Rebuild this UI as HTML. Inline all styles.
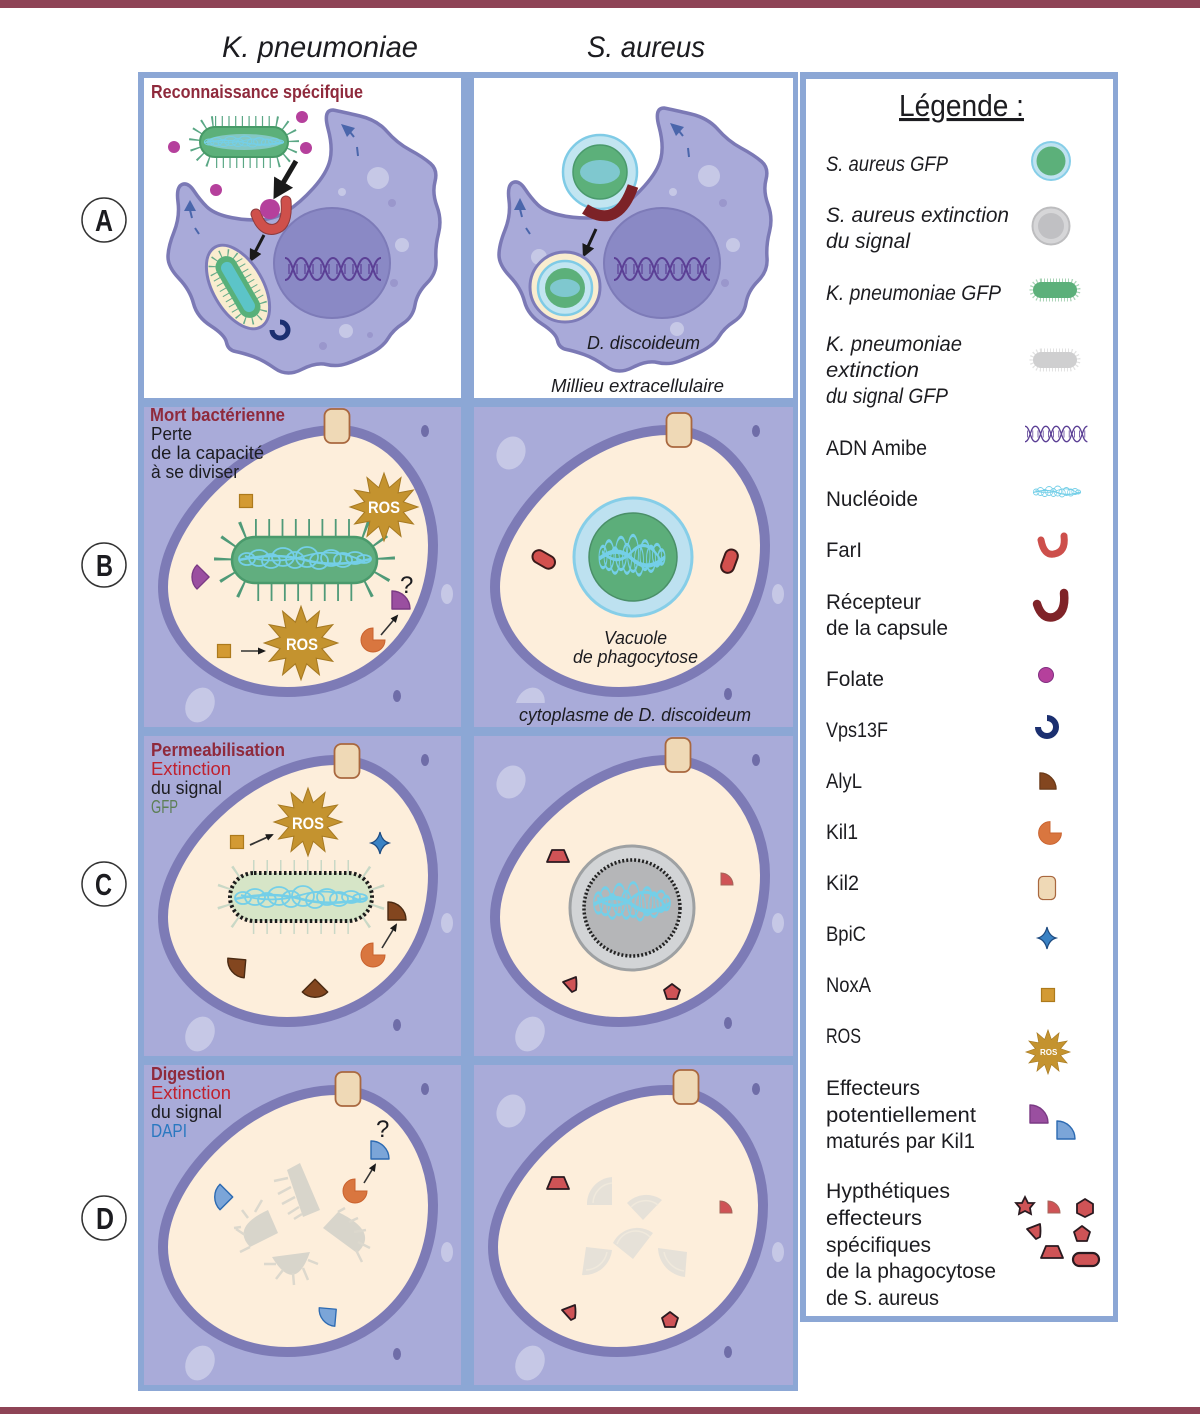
<!DOCTYPE html>
<html><head><meta charset="utf-8"><style>
html,body{margin:0;padding:0;background:#fff}
svg{display:block}
text{font-family:"Liberation Sans",sans-serif;fill:#1c1c20}
.l{font-size:21px}.i{font-style:italic}
.p{font-size:18px}.b{font-weight:bold}
</style></head><body>
<svg xmlns="http://www.w3.org/2000/svg" width="1200" height="1414" viewBox="0 0 1200 1414">
<defs>
<marker id="ah" markerWidth="8" markerHeight="8" refX="6" refY="3.5" orient="auto" markerUnits="userSpaceOnUse"><path d="M0 0L8 3.5L0 7Z" fill="#1a1a1a"/></marker>
<marker id="ahm" markerWidth="13" markerHeight="13" refX="8" refY="6.500" orient="auto" markerUnits="userSpaceOnUse"><path d="M0 0L13 6.500L0 13Z" fill="#1a1a1a"/></marker>
<marker id="ahb" markerWidth="22" markerHeight="22" refX="15" refY="11" orient="auto" markerUnits="userSpaceOnUse"><path d="M0 0L20 11L0 22Z" fill="#1a1a1a"/></marker>
<path id="am" d="M333 110Q343 112 360 116Q377 120 387 131.5Q397 143 410 150Q423 157 430.5 163.5Q438 170 435 181.5Q432 193 437 206.5Q442 220 438.5 233.5Q435 247 436 260Q437 273 427 283Q417 293 415 305Q413 317 403 323.5Q393 330 388 338.5Q383 347 370 353.5Q357 360 347 363.5Q337 367 326.5 364.5Q316 362 301.5 369.5Q287 377 275 368.5Q263 360 253 356.5Q243 353 235.5 351.5Q228 350 226.5 342.5Q225 335 211 326Q197 317 193.5 303.5Q190 290 179 278.5Q168 267 168 257Q168 247 174 232Q180 217 178 202Q176 187 182 184.5Q188 182 194 191Q200 200 206.5 206.5Q213 213 226.5 216.5Q240 220 256.5 220Q273 220 286.5 211.5Q300 203 313.5 188Q327 173 330 160Q333 147 328 128.5Q323 110 333 110Z" fill="#a9aad9" stroke="#7b79b5" stroke-width="3.5"/>
<g id="cellshape"><path d="M337 430C395 430 433 490 433 545C433 630 370 692 287 692C215 692 163 640 163 587C163 520 250 430 337 430Z" fill="#fdeedb" stroke="#7d7bb6" stroke-width="10"/></g>
<g id="cellL"><rect x="144" y="407" width="317" height="320" fill="#a9abd9"/>
<ellipse cx="200" cy="705" rx="14" ry="18" transform="rotate(25 200 705)" fill="#c6c8e6"/>
<ellipse cx="447" cy="594" rx="6" ry="10" fill="#c6c8e6"/>
<ellipse cx="425" cy="431" rx="4" ry="6" fill="#6f6da8"/><ellipse cx="397" cy="696" rx="4" ry="6" fill="#6f6da8"/></g>
<g id="cellR"><rect x="474" y="407" width="319" height="320" fill="#a9abd9"/>
<ellipse cx="511" cy="453" rx="14" ry="17" transform="rotate(25 511 453)" fill="#c6c8e6"/>
<ellipse cx="530" cy="705" rx="14" ry="18" transform="rotate(25 530 705)" fill="#c6c8e6"/>
<ellipse cx="778" cy="594" rx="6" ry="10" fill="#c6c8e6"/>
<ellipse cx="756" cy="431" rx="4" ry="6" fill="#6f6da8"/><ellipse cx="728" cy="694" rx="4" ry="6" fill="#6f6da8"/></g>
<g id="nuc" fill="none" stroke="#74cfe8" stroke-width="1.800">
<ellipse cx="-58" cy="0" rx="8" ry="6"/><ellipse cx="-46" cy="-1" rx="10" ry="8"/><ellipse cx="-34" cy="2" rx="9" ry="7"/><ellipse cx="-22" cy="-2" rx="11" ry="9"/><ellipse cx="-10" cy="1" rx="9" ry="8"/><ellipse cx="2" cy="-2" rx="11" ry="10"/><ellipse cx="14" cy="2" rx="9" ry="8"/><ellipse cx="26" cy="-1" rx="10" ry="8"/><ellipse cx="38" cy="1" rx="9" ry="7"/><ellipse cx="50" cy="-1" rx="9" ry="6"/><ellipse cx="59" cy="0" rx="7" ry="4"/>
<path d="M-66 1Q-30 -7 0 1T66 0" stroke-width="2.500"/><path d="M-60 -3Q-30 6 0 -3T60 3"/></g>
<g id="dna" fill="none" stroke="#5b3f95" stroke-width="2"><path d="M0 -11C8 -11 8 11 16 11S24 -11 32 -11S40 11 48 11S56 -11 64 -11S72 11 80 11S88 -11 96 -11"/><path d="M0 11C8 11 8 -11 16 -11S24 11 32 11S40 -11 48 -11S56 11 64 11S72 -11 80 -11S88 11 96 11"/><path d="M4 -5V5M12 -5V5M20 -5V5M28 -5V5M36 -5V5M44 -5V5M52 -5V5M60 -5V5M68 -5V5M76 -5V5M84 -5V5M92 -5V5" stroke-width="1.200"/></g>
<polygon id="star" points="0,-34 5.2,-19.3 17,-29.4 14.1,-14.1 29.4,-17 19.3,-5.2 34,0 19.3,5.2 29.4,17 14.1,14.1 17,29.4 5.2,19.3 0,34 -5.2,19.3 -17,29.4 -14.1,14.1 -29.4,17 -19.3,5.2 -34,0 -19.3,-5.2 -29.4,-17 -14.1,-14.1 -17,-29.4 -5.2,-19.3" fill="#c4932f" stroke="#a77a22" stroke-width="1"/>
<path id="w" d="M-9 -9V9H9A18 18 0 0 0 -9 -9Z" stroke-width="1.4" stroke-linejoin="round"/>
<path id="pac" d="M0 0L0 -12A12 12 0 1 0 12 0Z" fill="#d9763f" stroke="#c9622e" stroke-width="1"/>
<rect id="knob" x="-12.500" y="-17" width="25" height="34" rx="7" fill="#efd9b6" stroke="#a9683f" stroke-width="1.800"/>
<rect id="nox" x="-6.500" y="-6.500" width="13" height="13" fill="#d39a33" stroke="#ad7a1c" stroke-width="1.200"/>
<path id="bpic" d="M0 -11Q2 -2 9 0Q2 2 0 11Q-2 2 -9 0Q-2 -2 0 -11Z" fill="#3a82c4" stroke="#1d4a80" stroke-width="1.200"/>
<path id="trap" d="M-6 -6H6L11 6H-11Z" fill="#cf5356" stroke="#2a1a20" stroke-width="1.800" stroke-linejoin="round"/>
<path id="shield" d="M-7 -2L6 -7Q7 0 6 6L2 8Z" fill="#cf5356" stroke="#2a1a20" stroke-width="1.800" stroke-linejoin="round"/>
<path id="penta" d="M0 -8L8 -2L5 7H-5L-8 -2Z" fill="#cf5356" stroke="#2a1a20" stroke-width="1.800" stroke-linejoin="round"/>
<path id="qr" d="M-6 -6V6H6A12 12 0 0 0 -6 -6Z" fill="#cf5356" stroke="#a5655a" stroke-width="1"/>
</defs>

<rect width="1200" height="8" fill="#8e4456"/><rect y="1407" width="1200" height="7" fill="#8e4456"/>

<rect x="138" y="72" width="330" height="1319" fill="#8ca7d5"/><rect x="468" y="72" width="330" height="1319" fill="#8ca7d5"/>
<rect x="144" y="78" width="317" height="320" fill="#fff"/><rect x="474" y="78" width="319" height="320" fill="#fff"/>

<use href="#cellL"/><use href="#cellR"/>
<rect x="500" y="703" width="270" height="24" fill="#a9abd9"/>
<use href="#cellL" y="329"/><use href="#cellR" y="329"/>
<use href="#cellL" y="658"/><use href="#cellR" y="658"/>
<use href="#cellshape"/><use href="#cellshape" x="332"/>
<use href="#cellshape" y="330"/><use href="#cellshape" x="332" y="330"/>
<use href="#cellshape" y="660"/><use href="#cellshape" x="330" y="660"/>
<use href="#knob" x="337" y="426"/><use href="#knob" x="679" y="430"/>
<use href="#knob" x="347" y="761"/><use href="#knob" x="678" y="755"/>
<use href="#knob" x="348" y="1089"/><use href="#knob" x="686" y="1087"/>

<!-- Row A left -->
<use href="#am"/>
<g fill="#c6c8e6"><circle cx="378" cy="178" r="11"/><circle cx="402" cy="245" r="7"/><circle cx="346" cy="331" r="7"/><circle cx="342" cy="192" r="4"/></g>
<g fill="#9a97cc"><circle cx="392" cy="203" r="4"/><circle cx="394" cy="283" r="4"/><circle cx="370" cy="335" r="3"/><circle cx="323" cy="346" r="4"/></g>
<ellipse cx="332" cy="263" rx="58" ry="55" fill="#8a89c5" stroke="#7d7bb8" stroke-width="2"/>
<use href="#dna" x="285" y="269"/>
<g fill="#b5409c"><circle cx="174" cy="147" r="6"/><circle cx="216" cy="190" r="6"/><circle cx="306" cy="148" r="6"/><circle cx="302" cy="117" r="6"/></g>
<rect x="200" y="127" width="88" height="30" rx="15" fill="none" stroke="#5aa785" stroke-width="22" stroke-dasharray="1.200 5.500"/>
<rect x="200" y="127" width="88" height="30" rx="15" fill="#5cb07a" stroke="#479a67" stroke-width="2"/>
<ellipse cx="244" cy="142" rx="38" ry="8" fill="#84c8c4"/>
<use href="#nuc" transform="translate(244 142) scale(.6 .5)"/>
<path d="M296 161L276 195" stroke="#1a1a1a" stroke-width="5" marker-end="url(#ahb)"/>
<path d="M256 214Q262 232 275 229Q288 226 286 201" fill="none" stroke="#8b3b3e" stroke-width="11" stroke-linecap="round"/>
<path d="M256 214Q262 232 275 229Q288 226 286 201" fill="none" stroke="#cf504b" stroke-width="9" stroke-linecap="round"/>
<circle cx="270" cy="209" r="10" fill="#b5409c"/>
<path d="M264 235L252 258" stroke="#1a1a1a" stroke-width="3" marker-end="url(#ahm)"/>
<path d="M190 200L184 211H196Z" fill="#4a66ab"/><path d="M190 210L192 218M195 228L199 234" stroke="#4a66ab" stroke-width="2"/>
<path d="M341 124L355 128L347 137Z" fill="#4a66ab"/><path d="M350 132L354 137M357 147L358 156" stroke="#4a66ab" stroke-width="2"/>
<g transform="rotate(60 238 287)"><ellipse cx="238" cy="287" rx="46" ry="25" fill="#f9edcf" stroke="#7d7bb8" stroke-width="3"/>
<rect x="204" y="276" width="68" height="22" rx="11" fill="none" stroke="#66ab8a" stroke-width="14" stroke-dasharray="1 5"/>
<rect x="204" y="276" width="68" height="22" rx="11" fill="#58b07a"/><rect x="210" y="281" width="56" height="12" rx="6" fill="#5cc4c8"/></g>
<path d="M280 322A8 8 0 1 1 272 330" fill="none" stroke="#1b2f70" stroke-width="5"/>

<!-- Row A right -->
<use href="#am" x="331" y="-2"/>
<g fill="#c6c8e6"><circle cx="709" cy="176" r="11"/><circle cx="733" cy="245" r="7"/><circle cx="677" cy="329" r="7"/><circle cx="673" cy="192" r="4"/><circle cx="539" cy="257" r="8"/></g>
<g fill="#9a97cc"><circle cx="723" cy="203" r="4"/><circle cx="725" cy="283" r="4"/><circle cx="654" cy="346" r="4"/></g>
<ellipse cx="662" cy="263" rx="58" ry="55" fill="#8a89c5" stroke="#7d7bb8" stroke-width="2"/>
<use href="#dna" x="614" y="269"/>
<circle cx="600" cy="172" r="37" fill="#c2e5f1" stroke="#7fcbe6" stroke-width="2.500"/>
<circle cx="600" cy="172" r="27" fill="#5cb07a" stroke="#4a9a6c" stroke-width="1.500"/>
<ellipse cx="600" cy="172" rx="20" ry="12" fill="#7fc8cf"/>
<path d="M585 209Q618 230 633 186" fill="none" stroke="#7c2227" stroke-width="11"/>
<path d="M596 229L585 253" stroke="#1a1a1a" stroke-width="3" marker-end="url(#ahm)"/>
<circle cx="565" cy="287" r="35" fill="#f9edcf" stroke="#7d7bb8" stroke-width="3"/>
<circle cx="565" cy="288" r="27" fill="#c2e5f1" stroke="#7fcbe6" stroke-width="2.500"/>
<circle cx="565" cy="288" r="20" fill="#5cb07a"/><ellipse cx="565" cy="288" rx="15" ry="9" fill="#7fc8cf"/>
<path d="M520 198L514 210H526Z" fill="#4a66ab"/><path d="M520 209L522 217M526 228L530 234" stroke="#4a66ab" stroke-width="2"/>
<path d="M670 123L684 127L676 136Z" fill="#4a66ab"/><path d="M679 131L683 136M688 148L689 157" stroke="#4a66ab" stroke-width="2"/>

<!-- Row B left -->
<rect x="232" y="537" width="145" height="46" rx="23" fill="none" stroke="#4f9a78" stroke-width="36" stroke-dasharray="1.800 11.500"/>
<rect x="232" y="537" width="145" height="46" rx="23" fill="#61ae7f" stroke="#4a9a6c" stroke-width="2.500"/>
<use href="#nuc" transform="translate(305 559)"/>
<use href="#star" x="384" y="507"/><use href="#star" transform="translate(301 643) scale(1.080)"/>
<text x="368" y="513" class="b" font-size="17" style="fill:#fff" textLength="32" lengthAdjust="spacingAndGlyphs">ROS</text>
<text x="286" y="650" class="b" font-size="17" style="fill:#fff" textLength="32" lengthAdjust="spacingAndGlyphs">ROS</text>
<use href="#nox" x="246" y="501"/><use href="#nox" x="224" y="651"/>
<path d="M241 651H264" stroke="#333" stroke-width="1.500" marker-end="url(#ah)"/>
<use href="#w" transform="translate(197 577) rotate(-135) scale(.95)" fill="#9a4fa0" stroke="#7a3a84"/>
<use href="#w" x="401" y="600" fill="#9a4fa0" stroke="#7a3a84"/>
<use href="#pac" x="373" y="640"/>
<path d="M381 635L397 616" stroke="#333" stroke-width="1.600" marker-end="url(#ah)"/>
<text x="400" y="593" font-size="24">?</text>

<!-- Row B right -->
<circle cx="633" cy="557" r="59" fill="#bde1f0" stroke="#86cee8" stroke-width="3"/>
<circle cx="633" cy="557" r="44" fill="#5cae7a" stroke="#4a8f68" stroke-width="1.500"/>
<use href="#nuc" transform="translate(632 557) scale(.5 1.800)"/>
<rect x="532" y="553" width="24" height="13" rx="6.500" fill="#d2504e" stroke="#3a1a1a" stroke-width="2" transform="rotate(30 544 559)"/>
<rect x="717" y="555" width="24" height="13" rx="6.500" fill="#d2504e" stroke="#3a1a1a" stroke-width="2" transform="rotate(-70 729 561)"/>

<!-- Row C left -->
<rect x="232" y="876" width="138" height="42" rx="21" fill="none" stroke="#c9d8c6" stroke-width="32" stroke-dasharray="1.500 12"/>
<rect x="230" y="873" width="142" height="48" rx="24" fill="#d6e5c7"/>
<rect x="230" y="873" width="142" height="48" rx="24" fill="none" stroke="#1c1c1c" stroke-width="4" stroke-dasharray="2.500 2.500"/>
<use href="#nuc" transform="translate(301 898)"/>
<use href="#star" x="308" y="822"/>
<text x="292" y="829" class="b" font-size="17" style="fill:#fff" textLength="32" lengthAdjust="spacingAndGlyphs">ROS</text>
<use href="#nox" x="237" y="842"/>
<path d="M250 845L272 835" stroke="#333" stroke-width="1.800" marker-end="url(#ah)"/>
<use href="#bpic" x="380" y="843"/>
<use href="#w" x="397" y="911" fill="#83461f" stroke="#4a2a12"/>
<use href="#w" transform="translate(236 968) rotate(185)" fill="#83461f" stroke="#4a2a12"/>
<use href="#w" transform="translate(315 992) rotate(135)" fill="#83461f" stroke="#4a2a12"/>
<use href="#pac" x="373" y="955"/>
<path d="M382 948L396 925" stroke="#333" stroke-width="1.600" marker-end="url(#ah)"/>

<!-- Row C right -->
<circle cx="632" cy="908" r="62" fill="#d2d4d6" stroke="#9ea1a3" stroke-width="3"/>
<circle cx="632" cy="908" r="48" fill="#b5b6b8" stroke="#222" stroke-width="3.500" stroke-dasharray="2 2"/>
<use href="#nuc" transform="translate(632 903) scale(.58 1.700)"/>
<use href="#trap" x="558" y="856"/><use href="#qr" x="727" y="879"/><use href="#shield" x="570" y="984"/><use href="#penta" x="672" y="992"/>

<!-- Row D left -->
<g fill="#d8d5cb"><path d="M287 1170L300 1163L320 1210L303 1217Z"/><path d="M278 1233L268 1210Q231 1227 250 1247Z"/><path d="M323 1228L338 1212Q380 1232 357 1253Z"/><path d="M272 1257L310 1252Q295 1295 272 1257Z"/></g>
<g fill="none" stroke="#dcd8cd" stroke-width="2.500"><path d="M288 1178L274 1181M291 1187L278 1194M295 1197L282 1204M299 1207L288 1214M302 1214L294 1219M245 1235L236 1229M241 1227L234 1228M248 1218L242 1210M255 1212L262 1200M250 1247L240 1252M349 1222L358 1218M354 1232L366 1230M358 1242L370 1248M356 1250L362 1262M338 1212L345 1208M276 1264L264 1264M283 1270L276 1279M293 1273L294 1285M303 1268L308 1280M308 1260L318 1264"/></g>
<use href="#w" transform="translate(220 1197) rotate(-135)" fill="#7ba5d8" stroke="#2c6ab2"/>
<use href="#w" transform="translate(327 1317) rotate(185) scale(.95)" fill="#7ba5d8" stroke="#2c6ab2"/>
<use href="#w" x="380" y="1150" fill="#7ba5d8" stroke="#2c6ab2"/>
<use href="#pac" x="355" y="1191"/>
<path d="M364 1183L375 1165" stroke="#333" stroke-width="1.600" marker-end="url(#ah)"/>
<text x="376" y="1137" font-size="24">?</text>

<!-- Row D right -->
<g fill="#e6e1d8"><path d="M612 1205V1177A27 27 0 0 0 587 1205Z"/><path d="M643 1220L627 1203A27 27 0 0 1 662 1200Z"/><path d="M633 1259L613 1243A27 27 0 0 1 653 1233Z"/><path d="M586 1247L582 1275A28 28 0 0 0 612 1250Z"/><path d="M687 1252L658 1248A30 30 0 0 0 685 1277Z"/></g>
<g fill="none" stroke="#f0e9dc" stroke-width="1.500"><path d="M612 1183A21 21 0 0 0 593 1203M631 1207A20 20 0 0 1 658 1205M617 1244A20 20 0 0 1 650 1237M586 1270A22 22 0 0 0 607 1252M664 1252A24 24 0 0 0 684 1271"/></g>
<use href="#trap" x="558" y="1183"/><use href="#qr" x="726" y="1207"/><use href="#shield" x="569" y="1312"/><use href="#penta" x="670" y="1320"/>

<!-- Legend -->
<rect x="800" y="72" width="318" height="1250" fill="#8ca7d5"/><rect x="806" y="79" width="307" height="1237" fill="#fff"/>
<circle cx="1051" cy="161" r="19" fill="#bfe2f0" stroke="#86cee8" stroke-width="2"/><circle cx="1051" cy="161" r="14.500" fill="#5cb07a"/>
<circle cx="1051" cy="226" r="18.500" fill="#d6d6d8" stroke="#bdbdbf" stroke-width="2"/><circle cx="1051" cy="226" r="13" fill="#c0c0c3"/>
<rect x="1033" y="282" width="44" height="16" rx="8" fill="none" stroke="#a9d3b6" stroke-width="7" stroke-dasharray="1 2"/>
<rect x="1033" y="282" width="44" height="16" rx="8" fill="#5cb07a"/>
<rect x="1033" y="352" width="44" height="16" rx="8" fill="none" stroke="#e2e2e2" stroke-width="7" stroke-dasharray="1 2"/>
<rect x="1033" y="352" width="44" height="16" rx="8" fill="#cfcfd0"/>
<use href="#dna" transform="translate(1025 434) scale(.65 .7)"/>
<use href="#nuc" transform="translate(1057 492) scale(.36 .5)"/>
<path d="M1041 540Q1044 556 1054 554Q1066 552 1064 536" fill="none" stroke="#cd4f4b" stroke-width="7" stroke-linecap="round"/>
<path d="M1037 604Q1042 620 1054 617Q1066 613 1064 593" fill="none" stroke="#7f2328" stroke-width="8.500" stroke-linecap="round"/>
<circle cx="1046" cy="675" r="7.500" fill="#b5409c" stroke="#7f2e80" stroke-width="1"/>
<path d="M1047 718A9 9 0 1 1 1038 727" fill="none" stroke="#1b2f70" stroke-width="6"/>
<use href="#w" transform="translate(1048 781) scale(.9)" fill="#83461f" stroke="#6a3a18"/>
<use href="#pac" transform="translate(1050 833) scale(.95)"/>
<use href="#knob" transform="translate(1047 888) scale(.68)"/>
<use href="#bpic" x="1047" y="938"/>
<use href="#nox" x="1048" y="995"/>
<use href="#star" transform="translate(1048 1052) scale(.65)"/>
<text x="1040" y="1055" font-size="8" class="b" style="fill:#fff">ROS</text>
<use href="#w" x="1039" y="1114" fill="#9a4fa0" stroke="#7a3a84"/>
<use href="#w" x="1066" y="1130" fill="#7ba5d8" stroke="#2c6ab2"/>
<path d="M1025 1197L1028 1203L1034 1203L1030 1208L1031 1214L1025 1211L1019 1214L1020 1208L1016 1203L1022 1203Z" fill="#cf5356" stroke="#2a1a20" stroke-width="1.800"/>
<use href="#qr" x="1054" y="1207"/>
<path d="M1085 1199L1093 1204V1213L1085 1217L1077 1213V1204Z" fill="#cf5356" stroke="#2a1a20" stroke-width="1.800"/>
<use href="#shield" x="1034" y="1231"/><use href="#penta" x="1082" y="1234"/><use href="#trap" x="1052" y="1252"/>
<rect x="1073" y="1253" width="26" height="13" rx="6.500" fill="#cf5356" stroke="#2a1a20" stroke-width="2.200"/>

<!-- Round labels -->
<g fill="#fff" stroke="#333" stroke-width="1.500"><circle cx="104" cy="220" r="22"/><circle cx="104" cy="565" r="22"/><circle cx="104" cy="884" r="22"/><circle cx="104" cy="1218" r="22"/></g>
<g font-size="31" font-weight="bold"><text x="95" y="231" textLength="18" lengthAdjust="spacingAndGlyphs">A</text><text x="96" y="576" textLength="17" lengthAdjust="spacingAndGlyphs">B</text><text x="95" y="895" textLength="17" lengthAdjust="spacingAndGlyphs">C</text><text x="96" y="1229" textLength="18" lengthAdjust="spacingAndGlyphs">D</text></g>

<!-- Top titles -->
<text x="222" y="57" class="i" font-size="30" textLength="196" lengthAdjust="spacingAndGlyphs">K. pneumoniae</text>
<text x="587" y="57" class="i" font-size="30" textLength="118" lengthAdjust="spacingAndGlyphs">S. aureus</text>

<!-- Panel labels -->
<g class="p">
<text x="151" y="98" class="b" style="fill:#8f2a3c" textLength="212" lengthAdjust="spacingAndGlyphs">Reconnaissance spécifqiue</text>
<text x="587" y="349" class="i" textLength="113" lengthAdjust="spacingAndGlyphs">D. discoideum</text>
<text x="551" y="392" class="i" textLength="173" lengthAdjust="spacingAndGlyphs">Millieu extracellulaire</text>
<text x="150" y="421" class="b" style="fill:#8f2a3c" textLength="135" lengthAdjust="spacingAndGlyphs">Mort bactérienne</text>
<text x="151" y="440" textLength="41" lengthAdjust="spacingAndGlyphs">Perte</text>
<text x="151" y="459" textLength="113" lengthAdjust="spacingAndGlyphs">de la capacité</text>
<text x="151" y="478" textLength="88" lengthAdjust="spacingAndGlyphs">à se diviser</text>
<text x="604" y="644" class="i" textLength="63" lengthAdjust="spacingAndGlyphs">Vacuole</text>
<text x="573" y="663" class="i" textLength="125" lengthAdjust="spacingAndGlyphs">de phagocytose</text>
<text x="519" y="721" class="i" textLength="232" lengthAdjust="spacingAndGlyphs">cytoplasme de D. discoideum</text>
<text x="151" y="756" class="b" style="fill:#8f2a3c" textLength="134" lengthAdjust="spacingAndGlyphs">Permeabilisation</text>
<text x="151" y="775" style="fill:#c0212e" textLength="80" lengthAdjust="spacingAndGlyphs">Extinction</text>
<text x="151" y="794" textLength="71" lengthAdjust="spacingAndGlyphs">du signal</text>
<text x="151" y="813" style="fill:#5d7f55" textLength="27" lengthAdjust="spacingAndGlyphs">GFP</text>
<text x="151" y="1080" class="b" style="fill:#8f2a3c" textLength="74" lengthAdjust="spacingAndGlyphs">Digestion</text>
<text x="151" y="1099" style="fill:#c0212e" textLength="80" lengthAdjust="spacingAndGlyphs">Extinction</text>
<text x="151" y="1118" textLength="71" lengthAdjust="spacingAndGlyphs">du signal</text>
<text x="151" y="1137" style="fill:#2a78c0" textLength="36" lengthAdjust="spacingAndGlyphs">DAPI</text>
</g>

<!-- Legend text -->
<text x="899" y="116" font-size="31" textLength="125" lengthAdjust="spacingAndGlyphs" text-decoration="underline">Légende :</text>
<g class="l">
<text x="826" y="171" class="i" textLength="122" lengthAdjust="spacingAndGlyphs">S. aureus GFP</text>
<text x="826" y="222" class="i" textLength="183" lengthAdjust="spacingAndGlyphs">S. aureus extinction</text>
<text x="826" y="248" class="i" textLength="84" lengthAdjust="spacingAndGlyphs">du signal</text>
<text x="826" y="300" class="i" textLength="175" lengthAdjust="spacingAndGlyphs">K. pneumoniae GFP</text>
<text x="826" y="351" class="i" textLength="136" lengthAdjust="spacingAndGlyphs">K. pneumoniae</text>
<text x="826" y="377" class="i" textLength="93" lengthAdjust="spacingAndGlyphs">extinction</text>
<text x="826" y="403" class="i" textLength="122" lengthAdjust="spacingAndGlyphs">du signal GFP</text>
<text x="826" y="455" textLength="101" lengthAdjust="spacingAndGlyphs">ADN Amibe</text>
<text x="826" y="506" textLength="92" lengthAdjust="spacingAndGlyphs">Nucléoide</text>
<text x="826" y="557" textLength="36" lengthAdjust="spacingAndGlyphs">FarI</text>
<text x="826" y="609" textLength="95" lengthAdjust="spacingAndGlyphs">Récepteur</text>
<text x="826" y="635" textLength="122" lengthAdjust="spacingAndGlyphs">de la capsule</text>
<text x="826" y="686" textLength="58" lengthAdjust="spacingAndGlyphs">Folate</text>
<text x="826" y="737" textLength="62" lengthAdjust="spacingAndGlyphs">Vps13F</text>
<text x="826" y="788" textLength="36" lengthAdjust="spacingAndGlyphs">AlyL</text>
<text x="826" y="839" textLength="32" lengthAdjust="spacingAndGlyphs">Kil1</text>
<text x="826" y="890" textLength="33" lengthAdjust="spacingAndGlyphs">Kil2</text>
<text x="826" y="941" textLength="40" lengthAdjust="spacingAndGlyphs">BpiC</text>
<text x="826" y="992" textLength="45" lengthAdjust="spacingAndGlyphs">NoxA</text>
<text x="826" y="1043" textLength="35" lengthAdjust="spacingAndGlyphs">ROS</text>
<text x="826" y="1095" textLength="94" lengthAdjust="spacingAndGlyphs">Effecteurs</text>
<text x="826" y="1122" textLength="150" lengthAdjust="spacingAndGlyphs">potentiellement</text>
<text x="826" y="1148" textLength="149" lengthAdjust="spacingAndGlyphs">maturés par Kil1</text>
<text x="826" y="1198" textLength="124" lengthAdjust="spacingAndGlyphs">Hypthétiques</text>
<text x="826" y="1225" textLength="96" lengthAdjust="spacingAndGlyphs">effecteurs</text>
<text x="826" y="1252" textLength="105" lengthAdjust="spacingAndGlyphs">spécifiques</text>
<text x="826" y="1278" textLength="170" lengthAdjust="spacingAndGlyphs">de la phagocytose</text>
<text x="826" y="1305" textLength="113" lengthAdjust="spacingAndGlyphs">de S. aureus</text>
</g>
</svg>
</body></html>
